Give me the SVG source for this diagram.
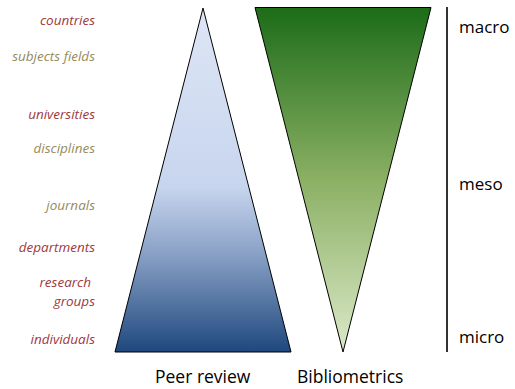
<svg xmlns="http://www.w3.org/2000/svg" width="515" height="389" viewBox="0 0 515 389">
<style>
.lvl{font-family:"Open Sans","Liberation Sans",sans-serif;font-style:italic;font-size:13.5px;text-anchor:end}
.r{fill:#A0383C}
.o{fill:#958B5C}
.big{font-family:"Open Sans","Liberation Sans",sans-serif;font-size:17.5px;fill:#000}
.sc{font-family:"Open Sans","Liberation Sans",sans-serif;font-size:17px;fill:#000}
</style>
<defs>
<linearGradient id="gb" x1="0" y1="0" x2="0" y2="1">
<stop offset="0" stop-color="#DEE6F5"/>
<stop offset="0.52" stop-color="#C7D5EE"/>
<stop offset="0.7" stop-color="#8EA5C9"/>
<stop offset="1" stop-color="#1F487E"/>
</linearGradient>
<linearGradient id="gg" x1="0" y1="0" x2="0" y2="1">
<stop offset="0" stop-color="#1C6C18"/>
<stop offset="0.5" stop-color="#8BB064"/>
<stop offset="1" stop-color="#DCE9C9"/>
</linearGradient>
</defs>
<g id="labels-left">
<text class="lvl r" x="95" y="25">countries</text>
<text class="lvl o" x="95" y="61">subjects fields</text>
<text class="lvl r" x="95" y="119">universities</text>
<text class="lvl o" x="95" y="153">disciplines</text>
<text class="lvl o" x="95" y="210">journals</text>
<text class="lvl r" x="95" y="252">departments</text>
<text class="lvl r" x="91" y="287">research</text>
<text class="lvl r" x="95" y="306">groups</text>
<text class="lvl r" x="95" y="344">individuals</text>
</g>
<g id="peer-review">
<polygon points="203,8 115,352 291,352" fill="url(#gb)" stroke="#000" stroke-width="1"/>
<text class="big" x="155" y="383">Peer review</text>
</g>
<g id="bibliometrics">
<polygon points="255,7.5 431,7.5 343,352" fill="url(#gg)" stroke="#000" stroke-width="1"/>
<text class="big" x="297" y="383">Bibliometrics</text>
</g>
<g id="scale">
<line x1="447" y1="7" x2="447" y2="352" stroke="#333" stroke-width="2"/>
<text class="sc" x="459" y="33">macro</text>
<text class="sc" x="459" y="190">meso</text>
<text class="sc" x="459" y="343">micro</text>
</g>
</svg>
